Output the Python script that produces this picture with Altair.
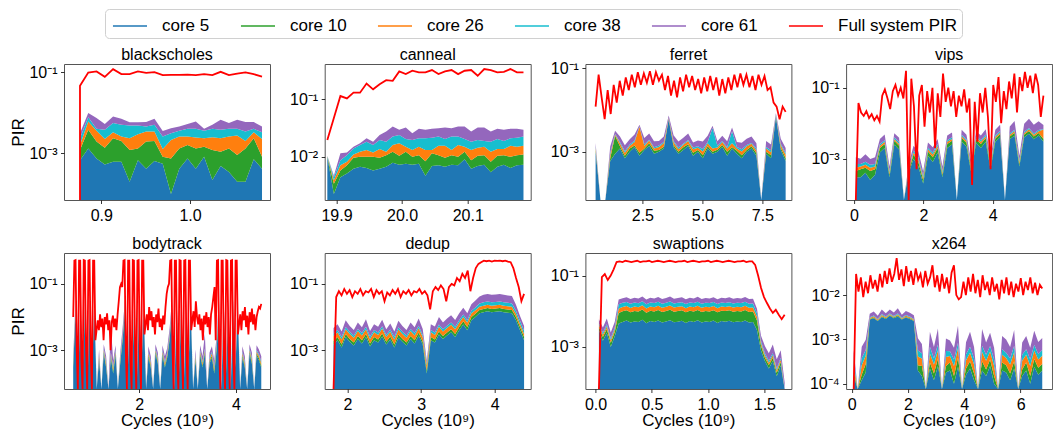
import altair as alt
import numpy as np
import pandas as pd

alt.data_transformers.disable_max_rows()

SERIES = ["core 5", "core 10", "core 26", "core 38", "core 61", "Full system PIR"]
COLORS = ["#1f77b4", "#2ca02c", "#ff7f0e", "#17becf", "#9467bd", "#ff0000"]
FONT = "Liberation Sans"
FLOOR = 1e-9

# ---------------- blackscholes ----------------
bs_x = (0.876, 1.081)
bs_red = [0, 0.047, 0.10, 0.106, 0.078, 0.121, 0.091, 0.091, 0.106, 0.098, 0.102, 0.086,
          0.087, 0.087, 0.089, 0.086, 0.091, 0.086, 0.104, 0.086, 0.094, 0.10, 0.091, 0.079]
bs_c5 = [6.8e-4, 1.33e-3, 7.5e-4, 5.3e-4, 6.2e-4, 6.2e-4, 2.0e-4, 6.8e-4, 4.2e-4, 6.5e-4, 5.6e-4, 1.0e-4,
         4.2e-4, 7.5e-4, 4.2e-4, 8.3e-4, 2.2e-4, 4.9e-4, 3.5e-4, 2.0e-4, 2.0e-4, 7.2e-4, 4.2e-4]
bs_c10 = [5.3e-4, 2.5e-3, 1.21e-3, 8.6e-4, 1.75e-3, 1.41e-3, 1.01e-3, 6.5e-4, 1.54e-3, 1.38e-3, 2.7e-4, 6.5e-4,
          9.1e-4, 8.7e-4, 9.1e-4, 6.4e-4, 9.9e-4, 6.1e-4, 9.8e-4, 7.1e-4, 1.13e-3, 1.65e-3, 4.1e-4]
bs_c26 = [4.1e-4, 2.36e-3, 1.66e-3, 8.9e-4, 9.8e-4, 5.8e-4, 1.16e-3, 1.66e-3, 1.52e-3, 1.45e-3, 4.5e-4, 1.4e-3,
          1.28e-3, 9.9e-4, 1.14e-3, 9.0e-4, 1.3e-3, 1.27e-3, 1.28e-3, 1.86e-3, 7.0e-4, 9.8e-4, 1.45e-3]
bs_c38 = [7.5e-4, 1.6e-3, 4.4e-4, 1.55e-3, 2.27e-3, 2.5e-3, 2.55e-3, 1.93e-3, 1.16e-3, 1.63e-3, 1.33e-3, 1.01e-3,
          1.01e-3, 1.45e-3, 1.59e-3, 1.25e-3, 1.55e-3, 1.46e-3, 1.45e-3, 1.29e-3, 1.45e-3, 7.1e-4, 1.07e-3]
bs_c61 = [7.9e-4, 2.2e-3, 3.4e-3, 1.5e-3, 2.6e-3, 2.1e-3, 1.0e-3, 1.0e-3, 1.3e-3, 2.1e-3, 1.0e-3, 1.06e-3,
          1.0e-3, 1.25e-3, 2.1e-3, 4.4e-4, 1.05e-3, 3.0e-3, 1.56e-3, 2.75e-3, 2.5e-3, 1.9e-3, 1.3e-3]

# ---------------- canneal ----------------
cn_x = (19.886, 20.185)
cn_red = [0.0197, 0.0474, 0.1145, 0.104, 0.131, 0.131, 0.189, 0.150, 0.184, 0.216,
          0.211, 0.308, 0.276, 0.316, 0.296, 0.296, 0.325, 0.276, 0.308, 0.325,
          0.276, 0.316, 0.325, 0.258, 0.338, 0.325, 0.296, 0.303, 0.338, 0.296, 0.296]
cn_c5 = [0.0100, 0.00225, 0.0044, 0.0051, 0.0062, 0.0067, 0.0064, 0.0058, 0.0062, 0.0067, 0.0079,
         0.0073, 0.0076, 0.0073, 0.0076, 0.0047, 0.0069, 0.0071, 0.0067, 0.0073, 0.0071, 0.0091,
         0.0062, 0.0069, 0.0073, 0.0054, 0.0067, 0.0073, 0.0064, 0.0071, 0.0073]
cn_c10 = [0.0001, 0.00115, 0.0014, 0.0020, 0.0034, 0.0033, 0.0036, 0.0042, 0.0034, 0.0040, 0.0044,
          0.0031, 0.0047, 0.0027, 0.0031, 0.0037, 0.0046, 0.0036, 0.0029, 0.0034, 0.0029, 0.0032,
          0.0025, 0.0035, 0.0034, 0.0028, 0.0037, 0.0034, 0.0036, 0.0036, 0.0037]
cn_c26 = [0.0001, 0.0005, 0.0013, 0.0011, 0.0014, 0.0023, 0.0031, 0.0019, 0.0041, 0.0016, 0.0038,
          0.0068, 0.0027, 0.0031, 0.0043, 0.0047, 0.0016, 0.0049, 0.0060, 0.0024, 0.0061, 0.0027,
          0.0044, 0.0040, 0.0043, 0.0041, 0.0033, 0.0030, 0.0056, 0.0043, 0.0046]
cn_c38 = [0.0001, 0.0005, 0.0016, 0.0025, 0.0030, 0.0038, 0.0053, 0.0042, 0.0060, 0.0061, 0.0064,
          0.0069, 0.0055, 0.0066, 0.0061, 0.0080, 0.0085, 0.0069, 0.0049, 0.0094, 0.0064, 0.0055,
          0.0053, 0.0053, 0.0039, 0.0061, 0.0068, 0.0052, 0.0055, 0.0066, 0.0069]
cn_c61 = [0.0001, 0.0003, 0.0028, 0.0012, 0.0010, 0.0011, 0.0027, 0.0023, 0.0044, 0.0092, 0.0113,
          0.0055, 0.0120, 0.0061, 0.0097, 0.0085, 0.0092, 0.0091, 0.0120, 0.0091, 0.0113, 0.0133,
          0.0092, 0.0128, 0.0136, 0.0092, 0.0103, 0.0107, 0.0097, 0.0092, 0.0071]

# ---------------- ferret ----------------
fe_x = (0.55, 8.47)
fe_red = [0.012, 0.07, 0.02, 0.006, 0.03, 0.008, 0.04, 0.015, 0.05, 0.022,
          0.06, 0.03, 0.07, 0.035, 0.08, 0.04, 0.075, 0.045, 0.085, 0.04,
          0.08, 0.05, 0.07, 0.03, 0.065, 0.022, 0.05, 0.02, 0.06, 0.028,
          0.07, 0.035, 0.065, 0.03, 0.055, 0.025, 0.06, 0.028, 0.065, 0.03,
          0.06, 0.022, 0.055, 0.025, 0.06, 0.03, 0.07, 0.035, 0.075, 0.04,
          0.07, 0.035, 0.065, 0.03, 0.07, 0.04, 0.065, 0.03, 0.035, 0.015,
          0.012, 0.006, 0.012, 0.009]
fe_c5 = [1.0e-3, 0, 0, 6e-4, 9e-4, 1.2e-3, 7e-4, 1.0e-3, 1.3e-3, 8e-4,
         1.1e-3, 1.4e-3, 9e-4, 1.0e-3, 1.2e-3, 6e-3, 1.3e-3, 9e-4, 1.1e-3, 1.4e-3,
         8e-4, 1.0e-3, 7e-4, 1.2e-3, 9e-4, 1.0e-3, 1.3e-3, 8e-4, 1.2e-3, 9e-4,
         7e-4, 1.0e-3, 1.2e-3, 8e-4, 0, 9e-4, 7e-4, 7e-3, 1.1e-3, 6e-4]
fe_c10 = [1e-4, 0, 0, 1e-4, 1.5e-3, 1.5e-4, 1e-4, 2e-4, 1.2e-4, 1.5e-4,
          1e-4, 2e-4, 1.5e-4, 1e-4, 1.2e-4, 2e-4, 1.5e-4, 1e-4, 1.8e-4, 1.2e-4,
          1.5e-4, 1e-4, 1.2e-4, 1.5e-4, 1e-4, 1.2e-4, 1.5e-4, 2e-4, 1e-4, 1.5e-4,
          1.2e-4, 1e-4, 1.5e-4, 1.2e-4, 0, 1e-4, 1.2e-4, 2e-4, 1.5e-4, 1e-4]
fe_c26 = [1.5e-4, 0, 0, 1.5e-4, 2e-4, 2.5e-4, 1.5e-4, 2e-4, 3e-4, 3e-3,
          2e-4, 2.5e-4, 1.5e-4, 2e-4, 3e-4, 2e-4, 2.5e-4, 1.5e-4, 2e-4, 3e-4,
          2e-4, 1.5e-4, 2e-4, 2.5e-4, 2e-4, 1.5e-4, 2.5e-4, 2e-4, 3e-4, 1.5e-4,
          2e-4, 2.5e-4, 2e-4, 1.5e-4, 0, 2e-4, 1.5e-4, 2.5e-4, 2e-4, 1.5e-4]
fe_c38 = [8e-5, 0, 0, 8e-5, 1e-4, 1.2e-4, 8e-5, 1e-4, 1.5e-4, 1e-4,
          1.2e-4, 1e-4, 8e-5, 1.2e-4, 1e-4, 1.5e-4, 1e-4, 1.2e-4, 8e-5, 1e-4,
          1.2e-4, 1e-4, 1.5e-4, 1e-4, 2.5e-3, 1.2e-4, 1e-4, 8e-5, 1.5e-3, 1e-4,
          1.2e-4, 1e-4, 8e-5, 1.2e-4, 0, 1e-4, 1.2e-4, 3e-4, 1e-4, 8e-5]
fe_c61 = [3e-4, 0, 0, 4e-4, 5e-4, 6e-4, 4e-4, 5e-4, 7e-4, 4e-4,
          6e-4, 8e-4, 5e-4, 4e-4, 6e-4, 8e-4, 7e-4, 5e-4, 6e-4, 8e-4,
          4e-4, 5e-4, 6e-4, 7e-4, 5e-4, 4e-4, 6e-4, 5e-4, 7e-4, 4e-4,
          5e-4, 6e-4, 7e-4, 4e-4, 0, 5e-4, 4e-4, 6e-4, 5e-4, 3e-4]

# ---------------- vips ----------------
vp_x = (0.05, 5.46)
vp_red = [0, 0.037, 0.02, 0.016, 0.022, 0.014, 0.018, 0.012, 0.016, 0.011,
          0.06, 0.09, 0.05, 0.025, 0.08, 0.12, 0.06, 0.1, 0.05, 0.3,
          0.0, 0.18, 0.03, 5e-4, 0.06, 0.12, 0.008, 0.08, 0.02, 0.1,
          0.002, 0.07, 0.015, 0.25, 0.04, 0.1, 0.03, 0.08, 0.015, 0.06,
          0.03, 0.09, 0.02, 0.05, 1.8e-4, 0.04, 0.003, 0.07, 0.02, 0.1,
          0.015, 5e-4, 0.12, 0.04, 0.2, 0.01, 0.08, 0.025, 0.15, 0.05,
          0.25, 0.02, 0.2, 0.08, 0.28, 0.1, 0.22, 0.07, 0.25, 0.12,
          0.015, 0.06]
vp_c5 = [3e-4, 3e-4, 4e-4, 2.5e-4, 3.5e-4, 1.5e-3, 2e-3, 3e-4, 2.5e-3, 1.8e-3,
         0, 4e-4, 1e-3, 6e-4, 2e-4, 1.2e-3, 8e-4, 1.5e-3, 3e-4, 2e-3,
         2.5e-3, 0, 3e-3, 2.2e-3, 4e-4, 2.8e-3, 2e-3, 3e-3, 5e-4, 3e-3,
         4e-3, 0, 3.5e-3, 4.5e-3, 6e-4, 4e-3, 5e-3, 3.5e-3, 4.5e-3, 3e-3]
vp_c10 = [1.5e-4, 2e-4, 1.5e-4, 2e-4, 1.5e-4, 5e-4, 6e-4, 5e-5, 7e-4, 5e-4,
          0, 5e-5, 3e-4, 2e-4, 5e-5, 4e-4, 3e-4, 5e-4, 5e-5, 6e-4,
          7e-4, 0, 8e-4, 6e-4, 8e-5, 7e-4, 6e-4, 8e-4, 1e-4, 7e-4,
          9e-4, 0, 7e-4, 9e-4, 1e-4, 8e-4, 1e-3, 7e-4, 8e-4, 6e-4]
vp_c26 = [1e-4, 1e-4, 1.2e-4, 1e-4, 1e-4, 3e-4, 4e-4, 5e-5, 4e-4, 3e-4,
          0, 5e-5, 2e-4, 1.5e-4, 4e-5, 2.5e-4, 2e-4, 3e-4, 5e-5, 4e-4,
          4e-4, 0, 5e-4, 4e-4, 6e-5, 5e-4, 4e-4, 5e-4, 8e-5, 4e-4,
          6e-4, 0, 5e-4, 6e-4, 1e-4, 5e-4, 7e-4, 5e-4, 6e-4, 3e-3]
vp_c38 = [1.5e-4, 1e-4, 1.5e-4, 1.2e-4, 1e-4, 3e-4, 3e-4, 5e-5, 4e-4, 3e-4,
          0, 5e-5, 2e-4, 1.5e-4, 4e-5, 2e-4, 2e-4, 3e-4, 5e-5, 3e-4,
          4e-4, 0, 4e-4, 3e-4, 6e-5, 4e-4, 3e-4, 5e-4, 8e-5, 4e-4,
          5e-4, 0, 4e-4, 5e-4, 1e-4, 4e-4, 6e-4, 4e-4, 5e-4, 3e-4]
vp_c61 = [4e-4, 3e-4, 5e-4, 3e-4, 4e-4, 1e-3, 1.5e-3, 1.5e-4, 1.2e-3, 1e-3,
          0, 1.5e-4, 6e-4, 5e-4, 1e-4, 8e-4, 6e-4, 1e-3, 1.5e-4, 1.2e-3,
          1.5e-3, 0, 1.8e-3, 1.2e-3, 2e-4, 1.5e-3, 1.2e-3, 2e-3, 3e-4, 2e-3,
          3e-3, 0, 3e-3, 5e-3, 3e-4, 4e-3, 6e-3, 4e-3, 5e-3, 2e-3]

# ---------------- bodytrack ----------------
bt_x = (0.64, 4.52)
bt_red = [0.01, 0.5, 0.52, 0.001, 0, 0.5, 0.5, 0.0005, 0, 0.52, 0.5, 0.001, 0, 0.5, 0.52, 0.0008, 0, 0.5, 0.5, 0.002, 0.004,
          0.008, 0.004, 0.012, 0.005, 0.009, 0.002, 0.01, 0.006, 0.013, 0.004, 0.008, 0.001, 0.007, 0.011, 0.005, 0.009, 0.004, 0.012, 0.03, 0.08, 0.1,
          0.08, 0.5, 0.52, 0.001, 0, 0.5, 0.5, 0.0005, 0, 0.52, 0.5, 0.001, 0, 0.5, 0.52, 0.0008, 0, 0.5, 0.5, 0.003,
          0.006, 0.012, 0.004, 0.02, 0.008, 0.015, 0.005, 0.01, 0.003, 0.012, 0.007, 0.018, 0.005, 0.009, 0.004, 0.011, 0.006, 0.02, 0.05, 0.08,
          0.1, 0.5, 0.52, 0.001, 0, 0.5, 0.5, 0.0005, 0, 0.52, 0.5, 0.001, 0, 0.5, 0.52, 0.0008, 0, 0.5, 0.5, 0.004,
          0.008, 0.015, 0.005, 0.03, 0.01, 0.006, 0.012, 0.004, 0.009, 0.002, 0.011, 0.006, 0.014, 0.005, 0.01, 0.003, 0.012, 0.02, 0.04,
          0.08, 0.002, 0.5, 0.52, 0.001, 0, 0.5, 0.5, 0.0005, 0, 0.52, 0.5, 0.001, 0, 0.5, 0.52, 0.0008, 0, 0.5, 0.5, 0.003,
          0.006, 0.012, 0.004, 0.015, 0.008, 0.02, 0.005, 0.011, 0.003, 0.014, 0.007, 0.018, 0.006, 0.012, 0.004, 0.01, 0.015, 0.02, 0.018, 0.025]
bt_c5 = [3e-4, 0.015, 0, 0.014, 2e-4, 0.015, 0, 0.015, 3e-4, 0.014, 0,
         5e-4, 0, 8e-4, 3e-4, 0, 6e-4, 2e-4, 7e-4, 0, 4e-4,
         2e-3, 0.015, 0, 0.014, 2e-4, 0.015, 0, 0.015, 3e-4, 0.014, 0,
         6e-4, 3e-4, 0, 8e-4, 4e-4, 0, 7e-4, 3e-4, 6e-4, 2e-3,
         0.015, 0, 0.014, 2e-4, 0.015, 0, 0.015, 3e-4, 0.014, 0,
         5e-4, 0, 7e-4, 3e-4, 8e-4, 0, 4e-4, 6e-4, 2e-4, 1e-3,
         0.015, 0, 0.014, 2e-4, 0.015, 0, 0.015, 3e-4, 0.014, 0,
         6e-4, 3e-4, 0, 8e-4, 4e-4, 0, 7e-4, 5e-4, 3e-4]
bt_c10 = [5e-5, 2.5e-3, 0, 2.4e-3, 4e-5, 2.5e-3, 0, 2.5e-3, 5e-5, 2.4e-3, 0,
          8e-5, 0, 1e-4, 5e-5, 0, 8e-5, 4e-5, 1e-4, 0, 6e-5,
          3e-4, 2.5e-3, 0, 2.4e-3, 4e-5, 2.5e-3, 0, 2.5e-3, 5e-5, 2.4e-3, 0,
          1e-4, 5e-5, 0, 1e-4, 6e-5, 0, 1e-4, 5e-5, 8e-5, 3e-4,
          2.5e-3, 0, 2.4e-3, 4e-5, 2.5e-3, 0, 2.5e-3, 5e-5, 2.4e-3, 0,
          8e-5, 0, 1e-4, 5e-5, 1e-4, 0, 6e-5, 1e-4, 4e-5, 2e-4,
          2.5e-3, 0, 2.4e-3, 4e-5, 2.5e-3, 0, 2.5e-3, 5e-5, 2.4e-3, 0,
          1e-4, 5e-5, 0, 1e-4, 6e-5, 0, 1e-4, 8e-5, 5e-5]
bt_c26 = [6e-5, 2.6e-3, 0, 2.5e-3, 5e-5, 2.6e-3, 0, 2.6e-3, 6e-5, 2.5e-3, 0,
          1e-4, 0, 1.2e-4, 6e-5, 0, 1e-4, 5e-5, 1.2e-4, 0, 8e-5,
          3e-4, 2.6e-3, 0, 2.5e-3, 5e-5, 2.6e-3, 0, 2.6e-3, 6e-5, 2.5e-3, 0,
          1.2e-4, 6e-5, 0, 1.2e-4, 8e-5, 0, 1.2e-4, 6e-5, 1e-4, 3e-4,
          2.6e-3, 0, 2.5e-3, 5e-5, 2.6e-3, 0, 2.6e-3, 6e-5, 2.5e-3, 0,
          1e-4, 0, 1.2e-4, 6e-5, 1.2e-4, 0, 8e-5, 1.2e-4, 5e-5, 2e-4,
          2.6e-3, 0, 2.5e-3, 5e-5, 2.6e-3, 0, 2.6e-3, 6e-5, 2.5e-3, 0,
          1.2e-4, 6e-5, 0, 1.2e-4, 8e-5, 0, 1.2e-4, 1e-4, 6e-5]
bt_c38 = [5e-5, 5e-3, 0, 4.8e-3, 4e-5, 5e-3, 0, 5e-3, 5e-5, 4.8e-3, 0,
          8e-5, 0, 1e-4, 5e-5, 0, 8e-5, 4e-5, 1e-4, 0, 6e-5,
          4e-4, 5e-3, 0, 4.8e-3, 4e-5, 5e-3, 0, 5e-3, 5e-5, 4.8e-3, 0,
          1e-4, 5e-5, 0, 1e-4, 6e-5, 0, 1e-4, 5e-5, 8e-5, 4e-4,
          5e-3, 0, 4.8e-3, 4e-5, 5e-3, 0, 5e-3, 5e-5, 4.8e-3, 0,
          8e-5, 0, 1e-4, 5e-5, 1e-4, 0, 6e-5, 1e-4, 4e-5, 3e-4,
          5e-3, 0, 4.8e-3, 4e-5, 5e-3, 0, 5e-3, 5e-5, 4.8e-3, 0,
          1e-4, 5e-5, 0, 1e-4, 6e-5, 0, 1e-4, 8e-5, 5e-5]
bt_c61 = [2e-4, 8e-3, 0, 7.5e-3, 1.5e-4, 8e-3, 0, 8e-3, 2e-4, 7.5e-3, 0,
          3e-4, 0, 4e-4, 2e-4, 0, 5e-3, 1.5e-4, 4e-4, 0, 2.5e-4,
          1.5e-3, 8e-3, 0, 7.5e-3, 1.5e-4, 8e-3, 0, 8e-3, 2e-4, 7.5e-3, 0,
          4e-4, 2e-4, 0, 4e-4, 2.5e-4, 0, 4e-4, 2e-4, 3e-4, 1.5e-3,
          8e-3, 0, 7.5e-3, 1.5e-4, 8e-3, 0, 8e-3, 2e-4, 7.5e-3, 0,
          3e-4, 0, 4e-4, 2e-4, 2e-3, 0, 2.5e-4, 4e-4, 1.5e-4, 1e-3,
          8e-3, 0, 7.5e-3, 1.5e-4, 8e-3, 0, 8e-3, 2e-4, 7.5e-3, 0,
          4e-4, 2e-4, 0, 4e-4, 2.5e-4, 0, 4e-4, 3e-4, 2e-4]

# ---------------- dedup ----------------
dd_x = (1.81, 4.40)
dd_red = [0, 0.04, 0.06, 0.045, 0.07, 0.05, 0.065, 0.04, 0.06, 0.05, 0.07,
          0.045, 0.06, 0.055, 0.07, 0.04, 0.065, 0.05, 0.06, 0.03, 0.055,
          0.045, 0.065, 0.05, 0.07, 0.04, 0.06, 0.05, 0.065, 0.045, 0.06,
          0.055, 0.07, 0.05, 0.06, 0.045, 0.017,
          0.06, 0.08, 0.065, 0.09, 0.07, 0.03, 0.08,
          0.1, 0.09, 0.15, 0.12, 0.2, 0.15, 0.25, 0.06,
          0.15, 0.3, 0.4,
          0.45, 0.5, 0.48, 0.5, 0.47, 0.5, 0.49, 0.5, 0.48, 0.5, 0.47, 0.45,
          0.3, 0.15, 0.08, 0.03, 0.05]
dd_c5 = [1.5e-3, 2e-3, 1.2e-3, 2.5e-3, 1.8e-3, 1.4e-3, 2.2e-3, 1.6e-3, 2.5e-3, 1.3e-3,
         2e-3, 1.7e-3, 2.6e-3, 1.5e-3, 2.1e-3, 1.2e-3, 2.4e-3, 1.8e-3, 1.4e-3, 2.2e-3,
         1.6e-3, 2.8e-3, 1.5e-3, 2e-4, 2e-3, 1.7e-3, 3e-3, 2.2e-3, 2.8e-3, 3.5e-3,
         2.5e-3, 4e-3, 6e-3, 4e-3, 8e-3, 1e-2, 1.3e-2, 1.4e-2, 1.5e-2, 1.4e-2,
         1.45e-2, 1.5e-2, 1.4e-2, 1.35e-2, 1.3e-2, 8e-3, 4e-3, 2e-3]
dd_c10 = [4e-4, 5e-4, 3e-4, 6e-4, 4e-4, 3e-4, 5e-4, 4e-4, 6e-4, 3e-4,
          5e-4, 4e-4, 6e-4, 3e-4, 5e-4, 3e-4, 6e-4, 4e-4, 3e-4, 5e-4,
          4e-4, 6e-4, 3e-4, 5e-5, 5e-4, 4e-4, 7e-4, 5e-4, 6e-4, 8e-4,
          6e-4, 1e-3, 1.5e-3, 1e-3, 2e-3, 2.5e-3, 3.2e-3, 3.5e-3, 3.8e-3, 3.5e-3,
          3.6e-3, 3.8e-3, 3.5e-3, 3.4e-3, 3.2e-3, 2e-3, 1e-3, 5e-4]
dd_c26 = [8e-4, 1e-3, 6e-4, 1.2e-3, 9e-4, 7e-4, 1.1e-3, 8e-4, 1.2e-3, 6e-4,
          1e-3, 8e-4, 1.3e-3, 7e-4, 1e-3, 6e-4, 1.2e-3, 9e-4, 7e-4, 1.1e-3,
          8e-4, 1.3e-3, 7e-4, 1e-4, 1e-3, 8e-4, 1.4e-3, 1e-3, 1.3e-3, 1.6e-3,
          1.2e-3, 1.8e-3, 2.5e-3, 1.8e-3, 3e-3, 3.5e-3, 4.2e-3, 4.5e-3, 4.8e-3, 4.5e-3,
          4.6e-3, 4.8e-3, 4.5e-3, 4.4e-3, 4.2e-3, 2.5e-3, 1.2e-3, 6e-4]
dd_c38 = [5e-4, 6e-4, 4e-4, 7e-4, 5e-4, 4e-4, 6e-4, 5e-4, 8e-4, 4e-4,
          6e-4, 5e-4, 8e-4, 4e-4, 6e-4, 4e-4, 7e-4, 5e-4, 4e-4, 6e-4,
          5e-4, 8e-4, 4e-4, 5e-5, 6e-4, 5e-4, 9e-4, 6e-4, 8e-4, 1e-3,
          8e-4, 1.2e-3, 2e-3, 1.2e-3, 2.5e-3, 3.5e-3, 5e-3, 5.8e-3, 6e-3, 5.8e-3,
          5.9e-3, 6e-3, 5.8e-3, 5.6e-3, 5.4e-3, 3e-3, 1.5e-3, 8e-4]
dd_c61 = [1.5e-3, 2e-3, 1.2e-3, 3e-3, 1.8e-3, 1.3e-3, 2.5e-3, 1.6e-3, 3.5e-3, 1.2e-3,
          2e-3, 1.7e-3, 3e-3, 1.4e-3, 2.2e-3, 1.2e-3, 2.8e-3, 1.8e-3, 1.3e-3, 2.4e-3,
          1.6e-3, 3.5e-3, 1.5e-3, 1e-4, 2e-3, 1.8e-3, 4e-3, 2.5e-3, 3.5e-3, 4.5e-3,
          3e-3, 5e-3, 7e-3, 5e-3, 9e-3, 1.2e-2, 1.6e-2, 1.9e-2, 2e-2, 1.9e-2,
          1.95e-2, 2e-2, 1.9e-2, 1.8e-2, 1.7e-2, 8e-3, 3e-3, 1.5e-3]

# ---------------- swaptions ----------------
sw_x = (0.03, 1.68)
sw_red = [0, 0.09, 0.11, 0.075, 0.1, 0.15, 0.24, 0.25, 0.24, 0.26,
          0.25, 0.24, 0.25, 0.26, 0.24, 0.25, 0.25, 0.26, 0.24, 0.25,
          0.26, 0.25, 0.24, 0.25, 0.26, 0.25, 0.24, 0.25, 0.25, 0.26,
          0.24, 0.25, 0.26, 0.25, 0.24, 0.25, 0.25, 0.26, 0.24, 0.25,
          0.26, 0.25, 0.24, 0.25, 0.26, 0.25, 0.24, 0.25, 0.25, 0.26,
          0.24, 0.25, 0.25, 0.2, 0.1, 0.045, 0.025, 0.017, 0.012, 0.009,
          0.011, 0.008, 0.006, 0.008]
sw_c5 = [3e-3, 1.5e-3, 2.5e-3, 1e-3, 2e-3, 4.5e-3, 5e-3, 5.5e-3, 4.8e-3, 5.2e-3,
         5e-3, 5.8e-3, 4.6e-3, 5.3e-3, 5e-3, 5.5e-3, 4.8e-3, 5.2e-3, 5.6e-3, 4.9e-3,
         5.1e-3, 5.4e-3, 4.7e-3, 5.3e-3, 5e-3, 5.6e-3, 4.8e-3, 5.2e-3, 5e-3, 5.5e-3,
         4.7e-3, 5.3e-3, 5.1e-3, 5.4e-3, 4.9e-3, 5.2e-3, 5e-3, 5.5e-3, 4.8e-3, 5e-3,
         3e-3, 8e-4, 4e-4, 2.5e-4, 4e-4, 1.5e-4, 3e-4, 0]
sw_c10 = [6e-4, 4e-4, 7e-4, 3e-4, 6e-4, 4.5e-3, 5e-3, 5.2e-3, 4.6e-3, 5e-3,
          4.8e-3, 5.4e-3, 4.5e-3, 5.1e-3, 4.9e-3, 5.3e-3, 4.7e-3, 5e-3, 5.4e-3, 4.8e-3,
          5e-3, 5.2e-3, 4.6e-3, 5.1e-3, 4.9e-3, 5.3e-3, 4.7e-3, 5e-3, 4.9e-3, 5.2e-3,
          4.6e-3, 5.1e-3, 5e-3, 5.2e-3, 4.8e-3, 5e-3, 4.9e-3, 5.3e-3, 4.7e-3, 4.8e-3,
          2.5e-3, 3e-4, 1e-4, 6e-5, 1e-4, 4e-5, 8e-5, 0]
sw_c26 = [5e-4, 3e-4, 6e-4, 2.5e-4, 5e-4, 3e-3, 3.2e-3, 3.4e-3, 3e-3, 3.3e-3,
          3.1e-3, 3.5e-3, 2.9e-3, 3.2e-3, 3.1e-3, 3.4e-3, 3e-3, 3.2e-3, 3.5e-3, 3e-3,
          3.2e-3, 3.3e-3, 2.9e-3, 3.2e-3, 3.1e-3, 3.4e-3, 3e-3, 3.2e-3, 3.1e-3, 3.3e-3,
          2.9e-3, 3.2e-3, 3.1e-3, 3.3e-3, 3e-3, 3.2e-3, 3.1e-3, 3.4e-3, 3e-3, 3e-3,
          1.5e-3, 2e-4, 8e-5, 5e-5, 8e-5, 3e-5, 6e-5, 0]
sw_c38 = [4e-4, 3e-4, 5e-4, 2e-4, 4e-4, 3.8e-3, 4e-3, 4.2e-3, 3.8e-3, 4.1e-3,
          3.9e-3, 4.3e-3, 3.7e-3, 4e-3, 3.9e-3, 4.2e-3, 3.8e-3, 4e-3, 4.3e-3, 3.8e-3,
          4e-3, 4.1e-3, 3.7e-3, 4e-3, 3.9e-3, 4.2e-3, 3.8e-3, 4e-3, 3.9e-3, 4.1e-3,
          3.7e-3, 4e-3, 3.9e-3, 4.1e-3, 3.8e-3, 4e-3, 3.9e-3, 4.2e-3, 3.8e-3, 3.8e-3,
          1.8e-3, 2e-4, 8e-5, 5e-5, 8e-5, 3e-5, 6e-5, 0]
sw_c61 = [1.5e-3, 1e-3, 2e-3, 8e-4, 1.5e-3, 5.5e-3, 6e-3, 6.5e-3, 5.8e-3, 6.3e-3,
          6e-3, 7e-3, 5.6e-3, 6.2e-3, 6e-3, 6.8e-3, 5.8e-3, 6.2e-3, 7e-3, 5.9e-3,
          6.1e-3, 6.6e-3, 5.7e-3, 6.3e-3, 6e-3, 6.8e-3, 5.8e-3, 6.2e-3, 6e-3, 6.5e-3,
          5.7e-3, 6.3e-3, 6.1e-3, 6.5e-3, 5.9e-3, 6.2e-3, 6e-3, 6.7e-3, 5.8e-3, 5.8e-3,
          3e-3, 6e-4, 4e-4, 2.5e-4, 5e-4, 2e-4, 3e-4, 1e-4]

# ---------------- x264 ----------------
xh_x = (0.07, 6.77)
xh_red = [0, 0.03, 0.012, 0.025, 0.009, 0.02, 0.011, 0.028, 0.014, 0.022,
          0.012, 0.03, 0.015, 0.035, 0.018, 0.04, 0.02, 0.03, 0.068, 0.022,
          0.038, 0.016, 0.045, 0.02, 0.035, 0.017, 0.04, 0.022, 0.03, 0.015,
          0.035, 0.018, 0.025, 0.047, 0.015, 0.028, 0.012, 0.03, 0.014, 0.025,
          0.011, 0.032, 0.047, 0.01, 0.008, 0.009, 0.02, 0.01, 0.025, 0.012,
          0.03, 0.011, 0.022, 0.009, 0.028, 0.013, 0.02, 0.01, 0.025, 0.012,
          0.018, 0.008, 0.022, 0.011, 0.025, 0.01, 0.02, 0.009, 0.018, 0.012,
          0.024, 0.01, 0.02, 0.013, 0.025, 0.011, 0.019, 0.01, 0.017, 0.014]
xh_c5 = [1.5e-4, 0, 1.2e-4, 1.8e-4, 2.8e-3, 3e-3, 2.6e-3, 3.2e-3, 2.9e-3, 3.4e-3,
         3e-3, 3.3e-3, 2.8e-3, 3.1e-3, 2.9e-3, 2.6e-3, 2e-4, 1.5e-4, 0, 2.2e-4,
         1.2e-4, 2.5e-4, 0, 1.8e-4, 2e-4, 1e-4, 2.4e-4, 0, 1.6e-4, 2.2e-4,
         1.2e-4, 0, 2e-4, 1.5e-4, 2.5e-4, 1e-4, 0, 2e-4, 1.8e-4, 1.2e-4,
         2.2e-4, 0, 1.5e-4, 2e-4, 1e-4, 2.4e-4, 1.6e-4, 2e-4]
xh_c10 = [3e-5, 0, 4e-5, 1e-4, 1e-4, 1.2e-4, 8e-5, 1.5e-4, 1e-4, 1.2e-4,
          1e-4, 1.5e-4, 8e-5, 1.2e-4, 1e-4, 8e-5, 6e-5, 1e-4, 0, 8e-5,
          5e-5, 1.2e-4, 0, 7e-5, 1e-4, 5e-5, 1.5e-4, 0, 6e-5, 1e-4,
          5e-5, 0, 1.2e-4, 6e-5, 1e-4, 5e-5, 0, 1e-4, 8e-5, 5e-5,
          1e-4, 0, 6e-5, 1e-4, 5e-5, 1.2e-4, 7e-5, 8e-5]
xh_c26 = [8e-5, 0, 1e-4, 1.5e-4, 1.5e-4, 2e-4, 1.2e-4, 2e-4, 1.5e-4, 1.8e-4,
          1.5e-4, 2e-4, 1.2e-4, 1.8e-4, 1.5e-4, 1.2e-4, 1.5e-4, 1.2e-4, 0, 1.8e-4,
          1e-4, 2e-4, 0, 1.5e-4, 1.2e-4, 1e-4, 2.5e-4, 0, 1.2e-4, 1.8e-4,
          1e-4, 0, 2e-4, 1.2e-4, 1.8e-4, 1e-4, 0, 1.5e-4, 1.2e-4, 1e-4,
          2e-4, 0, 1.2e-4, 1.5e-4, 1e-4, 2e-4, 1.2e-4, 1.5e-4]
xh_c38 = [1e-4, 0, 1.2e-4, 1.5e-4, 1.2e-4, 1.5e-4, 1e-4, 1.8e-4, 1.2e-4, 1.5e-4,
          1.2e-4, 1.8e-4, 1e-4, 1.5e-4, 1.2e-4, 1e-4, 1.5e-4, 1.2e-4, 0, 2e-4,
          1e-4, 2e-4, 0, 1.5e-4, 1.2e-4, 1e-4, 2e-4, 0, 1.2e-4, 1.8e-4,
          1e-4, 0, 2e-4, 1.2e-4, 1.8e-4, 1e-4, 0, 1.5e-4, 1.2e-4, 1e-4,
          2e-4, 0, 1.2e-4, 1.5e-4, 1e-4, 2e-4, 1.2e-4, 1.5e-4]
xh_c61 = [2e-4, 0, 3e-4, 4e-4, 6e-4, 8e-4, 5e-4, 1e-3, 6e-4, 9e-4,
          7e-4, 1.2e-3, 5e-4, 8e-4, 7e-4, 6e-4, 5e-4, 3e-4, 0, 8e-4,
          3e-4, 1e-3, 0, 5e-4, 4e-4, 3e-4, 1.2e-3, 0, 4e-4, 8e-4,
          3e-4, 0, 1e-3, 4e-4, 7e-4, 3e-4, 0, 6e-4, 5e-4, 3e-4,
          9e-4, 0, 4e-4, 6e-4, 3e-4, 8e-4, 4e-4, 5e-4]

# ---------------- chart building ----------------
YLABEL = ("datum.value >= 0.05 ? '10\u207b\u00b9' : datum.value >= 0.005 ? '10\u207b\u00b2' : "
          "datum.value >= 0.0005 ? '10\u207b\u00b3' : '10\u207b\u2074'")
W, H = 206, 136

legend = alt.Legend(orient="none", legendX=41, legendY=-55, direction="horizontal", title=None,
                    symbolType="M-1.42,0H1.42", symbolSize=576, symbolStrokeWidth=1.6,
                    symbolOffset=8, labelFontSize=17, labelFont=FONT, labelColor="black",
                    columnPadding=27, labelOffset=19, padding=4, strokeColor="#d0d0d0",
                    cornerRadius=4, fillColor="white")
fill_scale = alt.Scale(domain=SERIES[:5], range=COLORS[:5])
stroke_scale = alt.Scale(domain=SERIES, range=COLORS)


def panel(name, xr, cores, red, xdom, ydom, xvals, xfmt, yvals, left=False, bottom=False, red_lead=False):
    n = len(cores[0])
    cx = np.linspace(xr[0], xr[1], n)
    rows = []
    cum = np.zeros(n)
    for sname, vals in zip(SERIES[:5], cores):
        lo = cum.copy()
        cum = cum + np.asarray(vals, dtype=float)
        for xi, l, h in zip(cx, lo, cum):
            rows.append({"x": float(xi), "core": sname, "lo": max(l, FLOOR), "hi": max(h, FLOOR)})
    area_df = pd.DataFrame(rows)
    if red_lead:
        rx = np.concatenate([[xr[0]], np.linspace(xr[0], xr[1], len(red) - 1)])
    else:
        rx = np.linspace(xr[0], xr[1], len(red))
    red_df = pd.DataFrame({"x": rx, "hi": np.maximum(np.asarray(red, dtype=float), FLOOR),
                           "series": SERIES[5], "i": np.arange(len(red))})

    xs = alt.Scale(domain=xdom, nice=False, zero=False)
    ys = alt.Scale(type="log", domain=ydom, nice=False, clamp=True)
    if bottom:
        xa = alt.Axis(values=xvals, format=xfmt, title="Cycles (10\u2079)", titleX=W / 2, titleY=36,
                      titleAlign="center", titleBaseline="alphabetic")
    else:
        xa = alt.Axis(values=xvals, format=xfmt, title=None)
    if left:
        ya = alt.Axis(values=yvals, labelExpr=YLABEL, title="PIR", titleAngle=270, titleX=-41,
                      titleY=H / 2, titleAlign="center", titleBaseline="alphabetic")
    else:
        ya = alt.Axis(values=yvals, labelExpr=YLABEL, title=None)

    areas = alt.Chart(area_df).mark_area(clip=True, interpolate="linear").encode(
        x=alt.X("x:Q", scale=xs, axis=xa),
        y=alt.Y("hi:Q", scale=ys, axis=ya),
        y2="lo:Q",
        fill=alt.Fill("core:N", scale=fill_scale, legend=None),
    )
    line = alt.Chart(red_df).mark_line(clip=True, strokeWidth=1.8).encode(
        x=alt.X("x:Q", scale=xs, axis=xa),
        y=alt.Y("hi:Q", scale=ys, axis=ya),
        stroke=alt.Stroke("series:N", scale=stroke_scale, legend=legend),
        order=alt.Order("i:Q"),
    )
    title = alt.Chart(pd.DataFrame({"label": [name]})).mark_text(
        font=FONT, fontSize=16, color="black", align="center", baseline="alphabetic"
    ).encode(x=alt.value(W / 2), y=alt.value(-4.5), text="label:N")
    return alt.layer(areas, line, title).properties(width=W, height=H)


panels = [
    panel("blackscholes", bs_x, [bs_c5, bs_c10, bs_c26, bs_c38, bs_c61], bs_red,
          [0.858, 1.090], [7.08e-5, 0.162], [0.9, 1.0], ".1f", [0.1, 0.001], left=True, red_lead=True),
    panel("canneal", cn_x, [cn_c5, cn_c10, cn_c26, cn_c38, cn_c61], cn_red,
          [19.882, 20.196], [1.77e-3, 0.414], [19.9, 20.0, 20.1], ".1f", [0.1, 0.01]),
    panel("ferret", fe_x, [fe_c5, fe_c10, fe_c26, fe_c38, fe_c61], fe_red,
          [0.125, 8.71], [7.0e-5, 0.126], [2.5, 5.0, 7.5], ".1f", [0.1, 0.001]),
    panel("vips", vp_x, [vp_c5, vp_c10, vp_c26, vp_c38, vp_c61], vp_red,
          [-0.23, 5.71], [6.8e-5, 0.468], [0, 2, 4], "d", [0.1, 0.001]),
    panel("bodytrack", bt_x, [bt_c5, bt_c10, bt_c26, bt_c38, bt_c61], bt_red,
          [0.45, 4.70], [6.8e-5, 0.851], [2, 4], "d", [0.1, 0.001], left=True, bottom=True),
    panel("dedup", dd_x, [dd_c5, dd_c10, dd_c26, dd_c38, dd_c61], dd_red,
          [1.69, 4.49], [6.8e-5, 0.851], [2, 3, 4], "d", [0.1, 0.001], bottom=True),
    panel("swaptions", sw_x, [sw_c5, sw_c10, sw_c26, sw_c38, sw_c61], sw_red,
          [-0.09, 1.74], [6.6e-5, 0.43], [0.0, 0.5, 1.0, 1.5], ".1f", [0.1, 0.001], bottom=True),
    panel("x264", xh_x, [xh_c5, xh_c10, xh_c26, xh_c38, xh_c61], xh_red,
          [-0.2, 7.12], [7.6e-5, 0.089], [0, 2, 4, 6], "d", [0.01, 0.001, 0.0001], bottom=True),
]

chart = alt.concat(*panels, columns=4, spacing={"row": 53, "column": 54.7}, bounds="flush").resolve_scale(
    x="independent", y="independent", fill="shared", stroke="shared"
).properties(padding=0).configure_view(
    stroke="#555555", strokeWidth=1
).configure_axis(
    labelFont=FONT, labelFontSize=16, labelColor="black", titleFont=FONT, titleFontSize=17,
    titleFontWeight="normal", titleColor="black", tickColor="black", tickSize=3.5, tickWidth=0.8,
    labelPadding=3.5, domain=False, grid=False, labelFlush=False
)

chart.save("out.html", embed_options={"renderer": "svg", "actions": False})
